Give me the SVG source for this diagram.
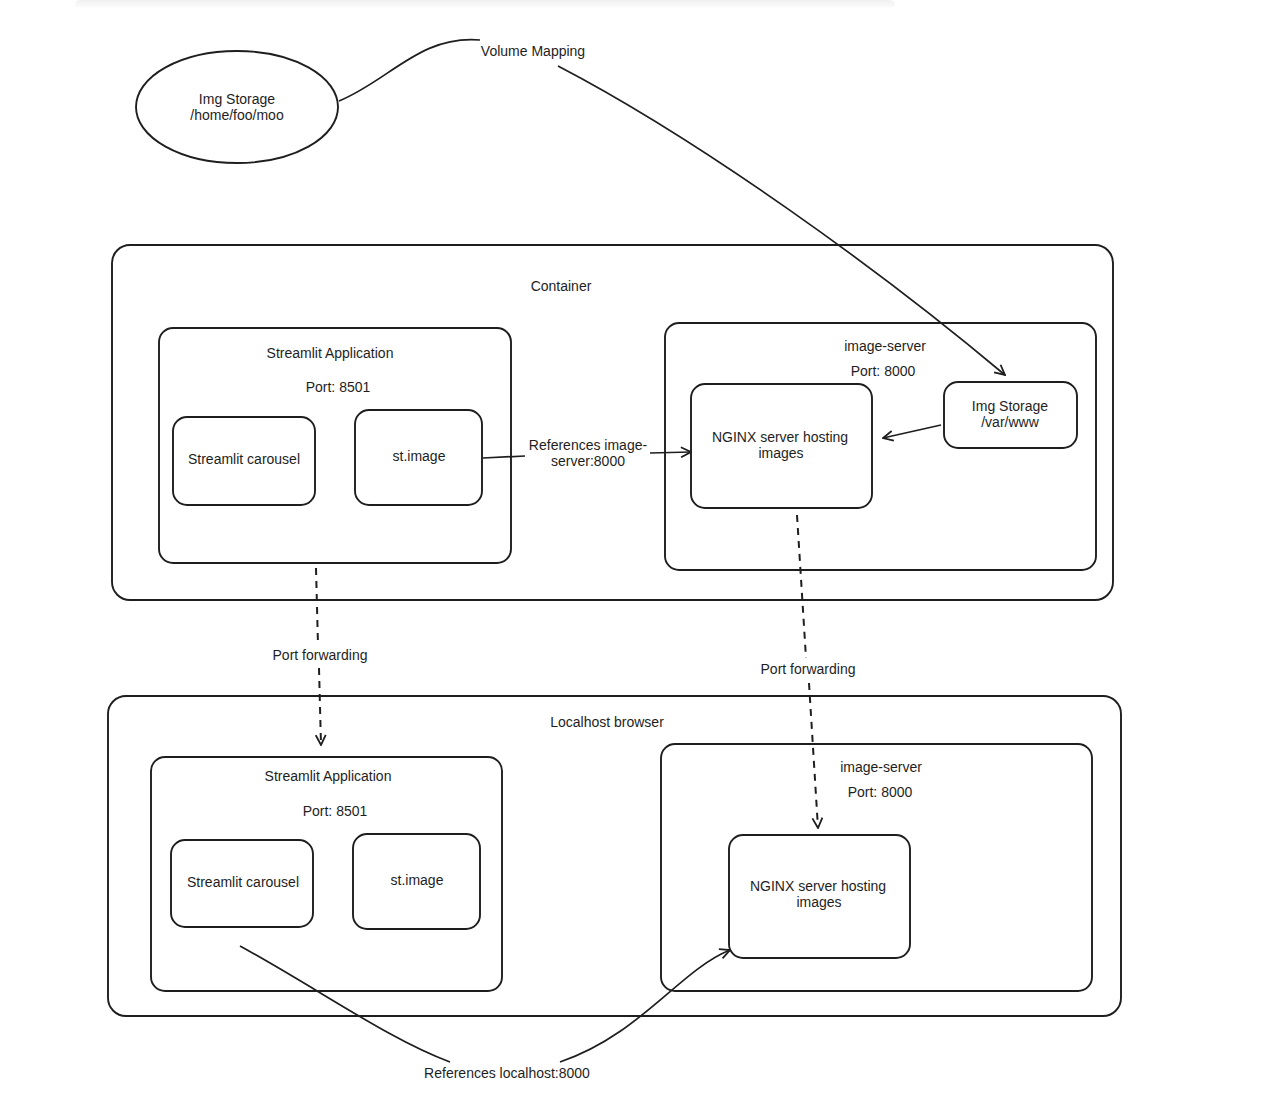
<svg xmlns="http://www.w3.org/2000/svg" width="1276" height="1102" viewBox="0 0 1276 1102">
<defs>
<marker id="arr" viewBox="0 0 12 12" refX="11" refY="6" markerWidth="12" markerHeight="12" markerUnits="userSpaceOnUse" orient="auto">
<path d="M1,1 L11,6 L1,11" fill="none" stroke="#1e1e1e" stroke-width="1.8"/>
</marker>
<linearGradient id="shadow" x1="0" y1="0" x2="0" y2="1">
<stop offset="0" stop-color="#f0f0f0"/>
<stop offset="1" stop-color="#ffffff"/>
</linearGradient>
</defs>
<style>
.box{fill:none;stroke:#1e1e1e;stroke-width:1.9}
.t{font-family:"Liberation Sans",Arial,sans-serif;font-size:14px;fill:#1e1e1e;text-anchor:middle}
.c{fill:none;stroke:#1e1e1e;stroke-width:1.7}
.d{fill:none;stroke:#1e1e1e;stroke-width:2;stroke-dasharray:7 6}
</style>
<rect width="1276" height="1102" fill="#ffffff"/>
<rect x="75" y="0" width="820" height="9" rx="6" fill="url(#shadow)"/>

<g id="img-storage-host">
<ellipse cx="237" cy="107" rx="101" ry="56" class="box"/>
<text class="t" x="237" y="104">Img Storage</text>
<text class="t" x="237" y="120">/home/foo/moo</text>
</g>

<g id="container">
<rect x="112" y="245" width="1001" height="355" rx="18" class="box"/>
<text class="t" x="561" y="291">Container</text>
</g>
<g id="streamlit-app-1">
<rect x="159" y="328" width="352" height="235" rx="14" class="box"/>
<text class="t" x="330" y="358">Streamlit Application</text>
<text class="t" x="338" y="392">Port: 8501</text>
</g>
<g id="carousel-1">
<rect x="173" y="417" width="142" height="88" rx="14" class="box"/>
<text class="t" x="244" y="464">Streamlit carousel</text>
</g>
<g id="stimage-1">
<rect x="355" y="410" width="127" height="95" rx="14" class="box"/>
<text class="t" x="419" y="461">st.image</text>
</g>
<g id="image-server-1">
<rect x="665" y="323" width="431" height="247" rx="14" class="box"/>
<text class="t" x="885" y="351">image-server</text>
<text class="t" x="883" y="376">Port: 8000</text>
</g>
<g id="nginx-1">
<rect x="691" y="384" width="181" height="124" rx="14" class="box"/>
<text class="t" x="780" y="442">NGINX server hosting</text>
<text class="t" x="781" y="458">images</text>
</g>
<g id="img-storage-container">
<rect x="944" y="382" width="133" height="66" rx="14" class="box"/>
<text class="t" x="1010" y="411">Img Storage</text>
<text class="t" x="1010" y="427">/var/www</text>
</g>

<g id="localhost">
<rect x="108" y="696" width="1013" height="320" rx="18" class="box"/>
<text class="t" x="607" y="727">Localhost browser</text>
</g>
<g id="streamlit-app-2">
<rect x="151" y="757" width="351" height="234" rx="14" class="box"/>
<text class="t" x="328" y="781">Streamlit Application</text>
<text class="t" x="335" y="816">Port: 8501</text>
</g>
<g id="carousel-2">
<rect x="171" y="840" width="142" height="87" rx="14" class="box"/>
<text class="t" x="243" y="887">Streamlit carousel</text>
</g>
<g id="stimage-2">
<rect x="353" y="834" width="127" height="95" rx="14" class="box"/>
<text class="t" x="417" y="885">st.image</text>
</g>
<g id="image-server-2">
<rect x="661" y="744" width="431" height="247" rx="14" class="box"/>
<text class="t" x="881" y="772">image-server</text>
<text class="t" x="880" y="797">Port: 8000</text>
</g>
<g id="nginx-2">
<rect x="729" y="835" width="181" height="123" rx="14" class="box"/>
<text class="t" x="818" y="891">NGINX server hosting</text>
<text class="t" x="819" y="907">images</text>
</g>

<g id="connectors">
<path class="c" d="M339,101 C390,80 420,35 480,40"/>
<path class="c" d="M558,66 C700,140 880,270 1005,375" marker-end="url(#arr)"/>
<text class="t" x="533" y="56">Volume Mapping</text>

<path class="c" d="M941,425 L883,438" marker-end="url(#arr)"/>

<path class="c" d="M483,458 L525,456"/>
<path class="c" d="M650,453 L691,452" marker-end="url(#arr)"/>
<text class="t" x="588" y="450">References image-</text>
<text class="t" x="588" y="466">server:8000</text>

<path class="d" d="M316,568 L318,645"/>
<path class="d" d="M319,668 L321,745" marker-end="url(#arr)"/>
<text class="t" x="320" y="660">Port forwarding</text>

<path class="d" d="M797,515 L806,658"/>
<path class="d" d="M809,683 L818,828" marker-end="url(#arr)"/>
<text class="t" x="808" y="674">Port forwarding</text>

<path class="c" d="M240,946 C320,990 390,1040 450,1062"/>
<path class="c" d="M560,1062 C640,1035 680,970 730,950" marker-end="url(#arr)"/>
<text class="t" x="507" y="1078">References localhost:8000</text>
</g>
</svg>
